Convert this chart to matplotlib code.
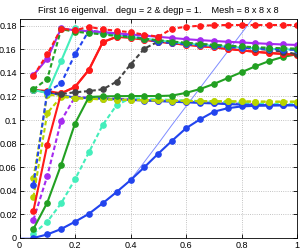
import numpy as np
import matplotlib
matplotlib.use("Agg")
import matplotlib.pyplot as plt

plt.rcParams['font.family'] = ['Liberation Sans', 'DejaVu Sans']

# parameter values (x axis)
x = [0.05, 0.10, 0.15, 0.20, 0.25, 0.30, 0.35, 0.40, 0.45, 0.50,
     0.55, 0.60, 0.65, 0.70, 0.75, 0.80, 0.85, 0.90, 0.95, 1.00]

# thin reference line
thin_x = [0.0, 0.05, 0.10, 0.15, 0.20, 0.25, 0.30, 0.35, 0.40, 0.45, 0.50,
          0.55, 0.60, 0.65, 0.70, 0.75, 0.80, 0.85, 0.90]
thin_y = [0.0, 0.0, 0.003, 0.0076, 0.0138, 0.0205, 0.0295, 0.039, 0.049, 0.0645, 0.080,
          0.096, 0.1115, 0.127, 0.1425, 0.158, 0.1735, 0.189, 0.2045]

blue_low = [0.000, 0.003, 0.0076, 0.0138, 0.0205, 0.0295, 0.039, 0.049, 0.060, 0.0715,
            0.0825, 0.093, 0.1005, 0.107, 0.110, 0.1115, 0.112, 0.1122, 0.1125, 0.1125]
blue_flat = [0.1255, 0.1235, 0.121, 0.119, 0.1185, 0.118, 0.1175, 0.117, 0.1165, 0.116,
             0.1155, 0.115, 0.1145, 0.114, 0.1135, 0.113, 0.1128, 0.1126, 0.1125, 0.1125]
blue_dash = [0.045, 0.124, 0.131, 0.1557, 0.1757, 0.1745, 0.173, 0.171, 0.169, 0.1662,
             0.1652, 0.1642, 0.1633, 0.1625, 0.1618, 0.1612, 0.1606, 0.1601, 0.1597, 0.1594]
green_low = [0.0076, 0.030, 0.062, 0.097, 0.1195, 0.120, 0.1202, 0.1203, 0.1203, 0.1203,
             0.1207, 0.123, 0.1262, 0.1305, 0.1355, 0.1405, 0.1455, 0.150, 0.1535, 0.1557]
green_dash = [0.126, 0.1347, 0.177, 0.1748, 0.1737, 0.1725, 0.1712, 0.170, 0.1688, 0.1676,
              0.1665, 0.1655, 0.1645, 0.1637, 0.163, 0.1623, 0.1617, 0.1612, 0.1608, 0.1605]
red_low = [0.023, 0.079, 0.1226, 0.128, 0.1425, 0.166, 0.1705, 0.1698, 0.168, 0.1665,
           0.165, 0.1638, 0.1627, 0.1615, 0.1603, 0.159, 0.1578, 0.1568, 0.156, 0.1553]
red_mid = [0.1255, 0.1246, 0.1226, 0.128, 0.1425, 0.166, 0.1705, 0.1698, 0.168, 0.1665,
           0.165, 0.1638, 0.1627, 0.1615, 0.1603, 0.159, 0.1578, 0.1568, 0.156, 0.1553]
red_dash = [0.1373, 0.1557, 0.1774, 0.176, 0.179, 0.1768, 0.1757, 0.1743, 0.1723, 0.1706,
            0.1774, 0.179, 0.1799, 0.1803, 0.1805, 0.1805, 0.1805, 0.1805, 0.1805, 0.1805]
purple = [0.138, 0.152, 0.1777, 0.176, 0.1752, 0.1745, 0.1735, 0.1725, 0.1715, 0.1705,
          0.1695, 0.1685, 0.1677, 0.167, 0.1663, 0.1657, 0.1651, 0.1645, 0.164, 0.1636]
purple_dash = [0.0153, 0.0525, 0.0994, 0.1195, 0.119, 0.1185, 0.118, 0.1175, 0.117, 0.1165,
               0.116, 0.1155, 0.115, 0.1145, 0.114, 0.1137, 0.1134, 0.1131, 0.1128, 0.1127]
teal = [0.1255, 0.1228, 0.150, 0.1777, 0.1745, 0.1732, 0.172, 0.1705, 0.169, 0.1675,
        0.166, 0.1648, 0.1638, 0.1629, 0.1621, 0.1614, 0.1608, 0.1603, 0.1599, 0.1597]
teal_dash = [0.0036, 0.0138, 0.0294, 0.0497, 0.0726, 0.0958, 0.1127, 0.1184, 0.118, 0.1175,
             0.117, 0.1165, 0.116, 0.1155, 0.115, 0.1145, 0.114, 0.1137, 0.1135, 0.1133]
yellow_a = [0.0345, 0.106, 0.1195, 0.1185, 0.118, 0.1175, 0.1172, 0.117, 0.1168, 0.1166,
            0.1164, 0.1162, 0.116, 0.1159, 0.1158, 0.1157, 0.1156, 0.1155, 0.1155, 0.1155]
yellow_b = [0.0506, 0.1215, 0.1205, 0.1185, 0.118, 0.1175, 0.1172, 0.117, 0.1168, 0.1166,
            0.1164, 0.1162, 0.116, 0.1159, 0.1158, 0.1157, 0.1156, 0.1155, 0.1155, 0.1155]
gray_dash = [0.1255, 0.1235, 0.122, 0.1235, 0.1245, 0.126, 0.1325, 0.147, 0.1605, 0.1665,
             0.1658, 0.165, 0.1642, 0.1634, 0.1625, 0.1615, 0.1605, 0.1593, 0.158, 0.1557]

BLUE = '#2244ee'
GREEN = '#22a022'
RED = '#ff1a1a'
TEAL = '#44eebb'
PURPLE = '#a52af0'
YELLOW = '#b8d400'
GRAY = '#444444'

fig = plt.figure(figsize=(3.05, 2.49), dpi=100)
ax = fig.add_axes([0.064, 0.0442, 0.9098, 0.8795])

lw = 1.5
ms = 3.8
dsh = (2.2, 1.3)

ax.plot(thin_x, thin_y, color='#7f8cff', lw=0.7)

# lower flat group
ax.plot(x, purple_dash, color=PURPLE, lw=lw, ls='--', dashes=dsh, marker='o', ms=ms)
ax.plot(x, teal_dash, color=TEAL, lw=lw, ls='--', dashes=dsh, marker='o', ms=ms)
ax.plot(x, blue_flat, color=BLUE, lw=lw, marker='o', ms=ms)
ax.plot(x, blue_low, color=BLUE, lw=lw, marker='o', ms=ms)
ax.plot(x, yellow_a, color=YELLOW, lw=lw, ls='--', dashes=dsh, marker='o', ms=ms)
ax.plot(x, yellow_b, color=YELLOW, lw=lw, ls='--', dashes=dsh, marker='o', ms=ms)
ax.plot(x, green_low, color=GREEN, lw=lw, marker='o', ms=ms)

# upper group
ax.plot(x, red_low, color=RED, lw=lw, marker='o', ms=ms)
ax.plot(x, red_mid, color=RED, lw=lw, marker='o', ms=ms)
ax.plot(x, gray_dash, color=GRAY, lw=lw, ls='--', dashes=dsh, marker='o', ms=ms)
ax.plot(x, teal, color=TEAL, lw=lw, marker='o', ms=ms)
ax.plot(x, blue_dash, color=BLUE, lw=lw, ls='--', dashes=dsh, marker='o', ms=ms)
ax.plot(x, purple, color=PURPLE, lw=lw, marker='o', ms=ms)
ax.plot(x, green_dash, color=GREEN, lw=lw, ls='--', dashes=dsh, marker='o', ms=ms)
ax.plot(x, red_dash, color=RED, lw=lw, ls='--', dashes=dsh, marker='o', ms=ms)

ax.set_xlim(0, 1)
ax.set_ylim(0, 0.1856)
ax.set_xticks([0, 0.2, 0.4, 0.6, 0.8, 1])
ax.set_xticklabels(['0', '0.2', '0.4', '0.6', '0.8', '1'])
ax.set_yticks([0, 0.02, 0.04, 0.06, 0.08, 0.1, 0.12, 0.14, 0.16, 0.18])
ax.set_yticklabels(['0', '0.02', '0.04', '0.06', '0.08', '0.1', '0.12', '0.14', '0.16', '0.18'])
ax.tick_params(direction='in', length=3, width=0.6, labelsize=6.5, pad=2,
               top=True, right=True)
ax.grid(True, ls=':', color='#b0b0b0', lw=0.6)
for s in ax.spines.values():
    s.set_linewidth(0.6)

ax.set_title('First 16 eigenval.   degu = 2 & degp = 1.    Mesh = 8 x 8 x 8',
             fontsize=6.6, pad=4)

fig.savefig('out.png', dpi=100)
